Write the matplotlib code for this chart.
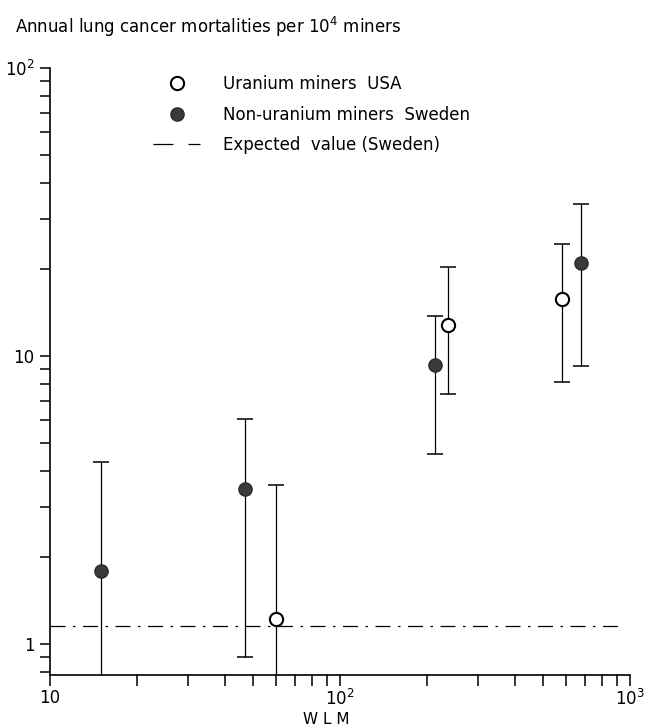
import matplotlib
matplotlib.use("Agg")
import matplotlib.pyplot as plt
from matplotlib.lines import Line2D
from matplotlib.ticker import LogLocator, FixedLocator, FixedFormatter, NullFormatter

# Uranium miners USA (open circles)
usa_wlm = [60, 235, 583]
usa_rate = [1.22, 12.8, 15.8]
usa_low = [0.5, 7.4, 8.1]
usa_high = [3.55, 20.4, 24.5]

# Non-uranium miners Sweden (filled circles)
swe_wlm = [15, 47, 213, 676]
swe_rate = [1.79, 3.45, 9.3, 21.0]
swe_low = [0.5, 0.90, 4.57, 9.23]
swe_high = [4.29, 6.04, 13.8, 33.7]

expected_value = 1.155

x_ticks = [10, 100, 1000]
x_labels = ["10", "10$^2$", "10$^3$"]
y_ticks = [1, 10, 100]
y_labels = ["1", "10", "10$^2$"]

plt.rcParams["font.family"] = ["DejaVu Sans"]
plt.rcParams["mathtext.fontset"] = "dejavusans"

fig = plt.figure(figsize=(6.45, 7.27), dpi=100)
ax = fig.add_axes([50 / 645, 1 - 675 / 727, 580 / 645, 607 / 727])

ax.set_xscale("log")
ax.set_yscale("log")
ax.set_xlim(10, 1000)
ax.set_ylim(0.78, 100)

# expected value line
ax.plot([10, 960], [expected_value, expected_value], color="black", lw=0.9,
        linestyle=(0, (12, 6, 2, 6)))


def yerr(rate, low, high):
    return [[r - l for r, l in zip(rate, low)], [h - r for r, h in zip(rate, high)]]


# error bars first, markers on top
for wlm, rate, low, high in [(swe_wlm, swe_rate, swe_low, swe_high),
                             (usa_wlm, usa_rate, usa_low, usa_high)]:
    ax.errorbar(wlm, rate, yerr=yerr(rate, low, high), fmt="none",
                ecolor="black", elinewidth=0.9, capsize=6, capthick=1.1, zorder=2)

ax.plot(swe_wlm, swe_rate, "o", markersize=9.5, markerfacecolor="#3a3a3a",
        markeredgecolor="#2a2a2a", markeredgewidth=1.0, zorder=3)
ax.plot(usa_wlm, usa_rate, "o", markersize=9.5, markerfacecolor="white",
        markeredgecolor="black", markeredgewidth=1.5, zorder=3)

for s in ["top", "right"]:
    ax.spines[s].set_visible(False)
for s in ["left", "bottom"]:
    ax.spines[s].set_linewidth(1.2)

ax.xaxis.set_major_locator(FixedLocator(x_ticks))
ax.xaxis.set_major_formatter(FixedFormatter(x_labels))
ax.xaxis.set_minor_locator(LogLocator(base=10, subs=range(2, 10)))
ax.xaxis.set_minor_formatter(NullFormatter())
ax.yaxis.set_major_locator(FixedLocator(y_ticks))
ax.yaxis.set_major_formatter(FixedFormatter(y_labels))
ax.yaxis.set_minor_locator(LogLocator(base=10, subs=range(2, 10)))
ax.yaxis.set_minor_formatter(NullFormatter())

ax.tick_params(axis="both", which="both", direction="out", width=1.1, labelsize=12)
ax.tick_params(axis="x", which="both", length=8, pad=2)
ax.tick_params(axis="y", which="both", length=7, pad=4)

ax.set_xlabel("W L M", fontsize=11)
ax.xaxis.set_label_coords(0.476, -0.061)

fig.text(15 / 645, 1 - 27 / 727, "Annual lung cancer mortalities per 10$^4$ miners",
         fontsize=12, va="center", ha="left")

handles = [
    Line2D([], [], linestyle="none", marker="o", markersize=9.5,
           markerfacecolor="white", markeredgecolor="black", markeredgewidth=1.5),
    Line2D([], [], linestyle="none", marker="o", markersize=9.5,
           markerfacecolor="#3a3a3a", markeredgecolor="#2a2a2a"),
    Line2D([], [], color="black", lw=0.9, linestyle=(0, (16, 12))),
]
labels = ["Uranium miners  USA", "Non-uranium miners  Sweden", "Expected  value (Sweden)"]
ax.legend(handles, labels, loc="upper left", bbox_to_anchor=(0.178, 0.988),
          frameon=False, fontsize=12, handlelength=2.8, handletextpad=1.4,
          labelspacing=0.75, borderpad=0, borderaxespad=0)

fig.savefig("out.png", dpi=100)
